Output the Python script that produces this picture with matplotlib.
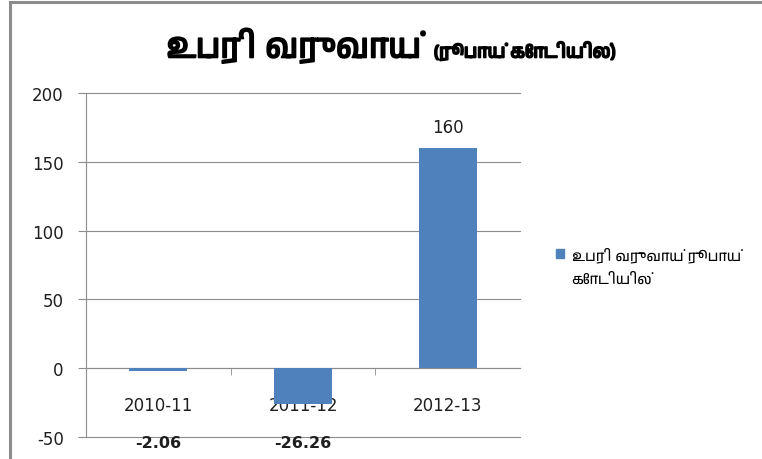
import matplotlib
matplotlib.use("Agg")
import matplotlib.pyplot as plt
import matplotlib.font_manager as fm
import matplotlib.patheffects as pe
from matplotlib.lines import Line2D
from matplotlib.patches import Rectangle
from matplotlib.legend_handler import HandlerPatch
from matplotlib.offsetbox import TextArea, HPacker, AnchoredOffsetbox
import numpy as np

plt.rcParams["axes.unicode_minus"] = False

# data
years = ["2010-11", "2011-12", "2012-13"]
surplus = [-2.06, -26.26, 160]
bar_labels = ["-2.06", "-26.26", "160"]
title_main = "உபரி வருவாய்"
title_sub = "(ரூபாய் கோடியில்)"
legend_label = "உபரி வருவாய் ரூபாய்\nகோடியில்"

# look for any font that can draw Tamil, fall back to DejaVu
tamil_fonts = sorted({f.name for f in fm.fontManager.ttflist
                      if "Tamil" in f.name or "Latha" in f.name or "Lohit" in f.name})
tfam = tamil_fonts + ["DejaVu Sans"]
num_font = ["DejaVu Sans"]

blue = "#4F81BD"
grid_col = "#8C8C8C"
txt_col = "#1F1F1F"

fig = plt.figure(figsize=(7.62, 4.60), dpi=100)
ax = fig.add_axes([0.1129, 0.0478, 0.5695, 0.7478])

x = np.arange(len(years))
ax.bar(x, surplus, width=0.4, color=blue, zorder=3)

ax.set_xlim(-0.5, 2.5)
ax.set_ylim(-50, 200)
ax.set_yticks([-50, 0, 50, 100, 150, 200])
ax.grid(axis="y", color=grid_col, linewidth=0.8, zorder=0)
for gl in ax.get_ygridlines():
    gl.set_clip_on(False)

for s in ["top", "right"]:
    ax.spines[s].set_visible(False)
ax.spines["left"].set_color(grid_col)
ax.spines["bottom"].set_position(("data", 0))
ax.spines["bottom"].set_color(grid_col)
ax.tick_params(axis="y", colors=grid_col, length=6, labelcolor=txt_col,
               labelsize=12, pad=10)
for t in ax.get_yticklabels():
    t.set_family(num_font)

ax.set_xticks(x)
ax.set_xticklabels(years, family=num_font, fontsize=12, color=txt_col)
ax.tick_params(axis="x", which="major", length=0, pad=20)
ax.set_xticks([0.5, 1.5], minor=True)
ax.tick_params(axis="x", which="minor", length=5, color=grid_col)

# value labels (negative ones sit at the bottom edge)
for i, v in enumerate(surplus):
    if v < 0:
        ax.annotate(bar_labels[i], (i, -50), xytext=(0, -3.6), textcoords="offset points",
                    ha="center", va="center", fontsize=11.5, fontweight="bold",
                    family=num_font, color=txt_col, annotation_clip=False)
    else:
        ax.annotate(bar_labels[i], (i, v), xytext=(0, 15), textcoords="offset points",
                    ha="center", va="center", fontsize=12, family=num_font, color=txt_col)

# title in two sizes, centred as one block
bold = [pe.withStroke(linewidth=1.3, foreground="black")]
ta1 = TextArea(title_main, textprops=dict(fontsize=24, family=tfam, fontweight="bold",
                                          color="black", path_effects=bold))
ta2 = TextArea(title_sub, textprops=dict(fontsize=13, family=tfam, fontweight="bold",
                                         color="black", path_effects=bold))
box = HPacker(children=[ta1, ta2], align="baseline", pad=0, sep=9)
anch = AnchoredOffsetbox(loc="center", child=box, frameon=False, pad=0, borderpad=0,
                         bbox_to_anchor=(391 / 762, 1 - 47 / 460),
                         bbox_transform=fig.transFigure)
fig.add_artist(anch)


# legend square sits next to the first line of the label
def top_square(legend, orig_handle, xdescent, ydescent, width, height, fontsize):
    return Rectangle((-xdescent, -ydescent + 8.5), width, height)


sq = Rectangle((0, 0), 1, 1, color=blue)
leg = ax.legend([sq], [legend_label],
                loc="upper left", bbox_to_anchor=(549 / 762, 1 - 240 / 460),
                bbox_transform=fig.transFigure, frameon=False, handlelength=0.55,
                handleheight=0.55, handletextpad=0.5, borderpad=0,
                handler_map={Rectangle: HandlerPatch(patch_func=top_square)},
                prop={"family": tfam, "size": 10.5})
for t in leg.get_texts():
    t.set_linespacing(1.9)

# frame lines of the cropped chart area
fig.add_artist(Line2D([10 / 762, 10 / 762], [0, 1 - 3 / 460], color="#8C8C8C", linewidth=2.2))
fig.add_artist(Line2D([10 / 762, 1], [1 - 3 / 460, 1 - 3 / 460], color="#8C8C8C", linewidth=2.2))

fig.savefig("out.png", dpi=100)
